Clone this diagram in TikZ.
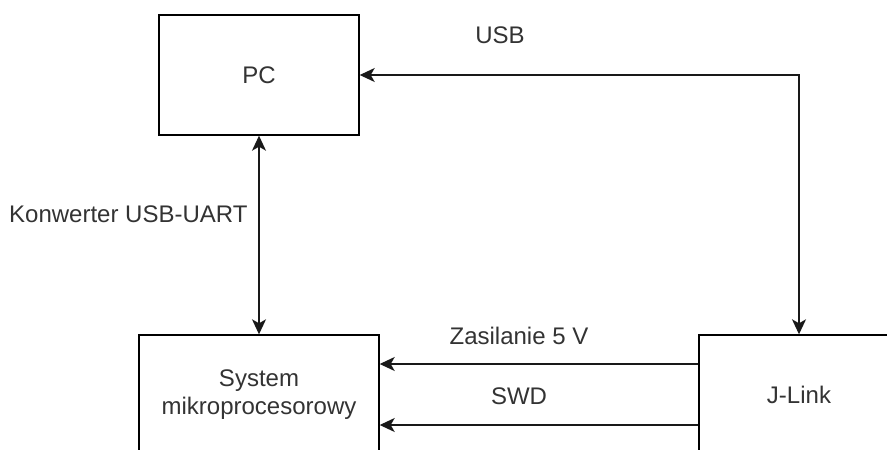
\documentclass[tikz,border=0pt]{standalone}
\usepackage{fontspec}
\setmainfont{Liberation Sans}
\usetikzlibrary{arrows.meta}
\begin{document}
\begin{tikzpicture}[x=1pt,y=-1pt,
  box/.style={draw=black, line width=1.4pt, fill=white, minimum width=200pt, minimum height=120pt, inner sep=0pt, text=black!80, font=\fontsize{24}{28}\selectfont, align=center},
  lbl/.style={text=black!80, font=\fontsize{24}{28}\selectfont, inner sep=0pt},
  tipstyle/.style={Stealth[length=15pt,width=14pt,inset=4pt]},
  conn/.style={line width=1.4pt, draw=black!90, -{Stealth[length=15pt,width=14pt,inset=4pt]}},
  conn2/.style={line width=1.4pt, draw=black!90, {Stealth[length=15pt,width=14pt,inset=4pt]}-{Stealth[length=15pt,width=14pt,inset=4pt]}}]
\clip (0,0) rectangle (887,450);
\fill[white] (0,0) rectangle (887,450);
\node[box] (pc) at (259,75) {PC};
\node[box, minimum width=240pt] (sys) at (259,395) {System\\mikroprocesorowy};
\node[box] (jl) at (799,395) {J-Link};
\draw[conn2] (pc.east) -| (jl.north);
\draw[conn2] (pc.south) -- (sys.north);
\draw[conn] ([yshift=-30pt]jl.west) -- ([yshift=-30pt]sys.east);
\draw[conn] ([yshift=31pt]jl.west) -- ([yshift=31pt]sys.east);
\node[lbl] (usb) at (500,35) {USB};
\node[lbl, anchor=west] (konw) at (9,214) {Konwerter USB-UART};
\node[lbl] (zas) at (519,336) {Zasilanie 5 V};
\node[lbl] (swd) at (519,396) {SWD};
\end{tikzpicture}
\end{document}
